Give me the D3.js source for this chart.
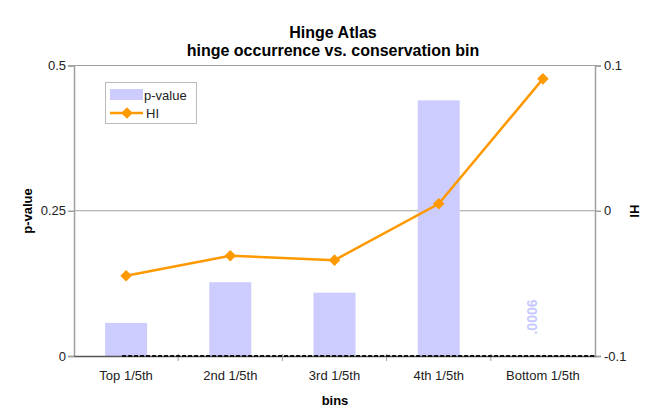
<!DOCTYPE html>
<html><head><meta charset="utf-8">
<script src="https://cdn.jsdelivr.net/npm/d3@7"></script>
<style>body{margin:0;background:#fff}svg{display:block;font-family:"Liberation Sans",Arial,sans-serif}</style>
</head><body><svg id="c" width="647" height="409"></svg>
<script>
const categories = ["Top 1/5th","2nd 1/5th","3rd 1/5th","4th 1/5th","Bottom 1/5th"];
const pValues = [0.057, 0.127, 0.109, 0.44, 0.0006];
const hiValues = [-0.0448, -0.031, -0.034, 0.0048, 0.0908];
const leftTicks = [0, 0.25, 0.5];
const leftTickLabels = ["0", "0.25", "0.5"];
const rightTicks = [-0.1, 0, 0.1];
const rightTickLabels = ["-0.1", "0", "0.1"];
const barLabel = ".0006";

const svg = d3.select("#c");
const m = {l:74, r:595, t:65.5, b:356};
const xc = d3.scaleBand().domain(categories).range([m.l, m.r]);
const yL = d3.scaleLinear().domain([0, 0.5]).range([m.b, m.t]);
const yR = d3.scaleLinear().domain([-0.1, 0.1]).range([m.b, m.t]);
const grey = "#a0a0a0";
const cx = d => xc(d) + xc.bandwidth()/2;

// gridlines
svg.append("g").selectAll("line").data([0.25, 0.5]).join("line")
  .attr("x1", m.l).attr("x2", m.r).attr("y1", d=>yL(d)).attr("y2", d=>yL(d))
  .attr("stroke", grey).attr("stroke-width", 1);

// bars
svg.append("g").selectAll("rect").data(categories).join("rect")
  .attr("x", d=>cx(d)-21).attr("width", 42)
  .attr("y", (d,i)=>yL(pValues[i])).attr("height", (d,i)=>m.b-yL(pValues[i]))
  .attr("fill", "#ccccff");

// left axis
const gL = svg.append("g").attr("transform", `translate(${m.l},0)`)
  .call(d3.axisLeft(yL).tickValues(leftTicks).tickFormat((d,i)=>leftTickLabels[i]).tickSize(6).tickPadding(2));
gL.selectAll("path,line").attr("stroke", grey).attr("stroke-width", 1.5);
gL.selectAll("text").attr("font-size", 13).attr("fill", "#222");

// right axis
const gR = svg.append("g").attr("transform", `translate(${m.r},0)`)
  .call(d3.axisRight(yR).tickValues(rightTicks).tickFormat((d,i)=>rightTickLabels[i]).tickSize(6).tickPadding(3));
gR.selectAll("path,line").attr("stroke", grey).attr("stroke-width", 1.5);
gR.selectAll("text").attr("font-size", 13).attr("fill", "#222");

// bottom axis
const gB = svg.append("g").attr("transform", `translate(0,${m.b})`)
  .call(d3.axisBottom(xc).tickSize(0).tickPadding(15));
gB.select("path").attr("stroke", "#555").attr("stroke-width", 1.5);
gB.selectAll("text").attr("font-size", 13).attr("fill", "#222");
gB.append("g").selectAll("line").data(categories.slice(1)).join("line")
  .attr("x1", d=>xc(d)).attr("x2", d=>xc(d)).attr("y1", -2).attr("y2", 5)
  .attr("stroke", grey);

// dashed baseline
svg.append("line")
  .attr("x1", cx(categories[0])-4).attr("x2", m.r)
  .attr("y1", m.b).attr("y2", m.b)
  .attr("stroke", "#111").attr("stroke-width", 2).attr("stroke-dasharray", "4,2");

// HI line
const line = d3.line().x((d,i)=>cx(categories[i])).y(d=>yR(d));
svg.append("path").datum(hiValues).attr("d", line)
  .attr("fill", "none").attr("stroke", "#ff9900").attr("stroke-width", 2.5);
const diamond = d3.symbol().type(d3.symbolDiamond2).size(85);
svg.append("g").selectAll("path").data(hiValues).join("path")
  .attr("d", diamond)
  .attr("transform", (d,i)=>`translate(${cx(categories[i])},${yR(d)})`)
  .attr("fill", "#ff9900");

// bar label
svg.append("text").attr("transform", `translate(${cx(categories[4])-11},317) rotate(-90)`)
  .attr("text-anchor", "middle").attr("dominant-baseline", "central")
  .attr("font-size", 14).attr("font-weight", "bold").attr("fill", "#c8c8ff").text(barLabel);

// titles
svg.append("text").attr("x", 333).attr("y", 38).attr("text-anchor", "middle")
  .attr("font-size", 16).attr("font-weight", "bold").text("Hinge Atlas");
svg.append("text").attr("x", 333).attr("y", 56).attr("text-anchor", "middle")
  .attr("font-size", 16).attr("font-weight", "bold").text("hinge occurrence vs. conservation bin");
svg.append("text").attr("x", 335).attr("y", 405).attr("text-anchor", "middle")
  .attr("font-size", 13).attr("font-weight", "bold").text("bins");
svg.append("text").attr("transform", "translate(27,211) rotate(-90)").attr("text-anchor", "middle")
  .attr("dominant-baseline", "central").attr("font-size", 13).attr("font-weight", "bold").text("p-value");
svg.append("text").attr("transform", "translate(634,211) rotate(90)").attr("text-anchor", "middle")
  .attr("dominant-baseline", "central").attr("font-size", 13).attr("font-weight", "bold").text("HI");

// legend
const lg = svg.append("g");
lg.append("rect").attr("x", 105.5).attr("y", 82.5).attr("width", 91).attr("height", 41)
  .attr("fill", "#fff").attr("stroke", "#bbb");
lg.append("rect").attr("x", 110).attr("y", 89).attr("width", 33).attr("height", 11).attr("fill", "#ccccff");
lg.append("text").attr("x", 144).attr("y", 99.5).attr("font-size", 13).attr("fill", "#222").text("p-value");
lg.append("line").attr("x1", 110).attr("x2", 143).attr("y1", 113).attr("y2", 113)
  .attr("stroke", "#ff9900").attr("stroke-width", 2.5);
lg.append("path").attr("d", diamond).attr("transform", "translate(127,113)").attr("fill", "#ff9900");
lg.append("text").attr("x", 146).attr("y", 118).attr("font-size", 13).attr("fill", "#222").text("HI");
</script></body></html>
